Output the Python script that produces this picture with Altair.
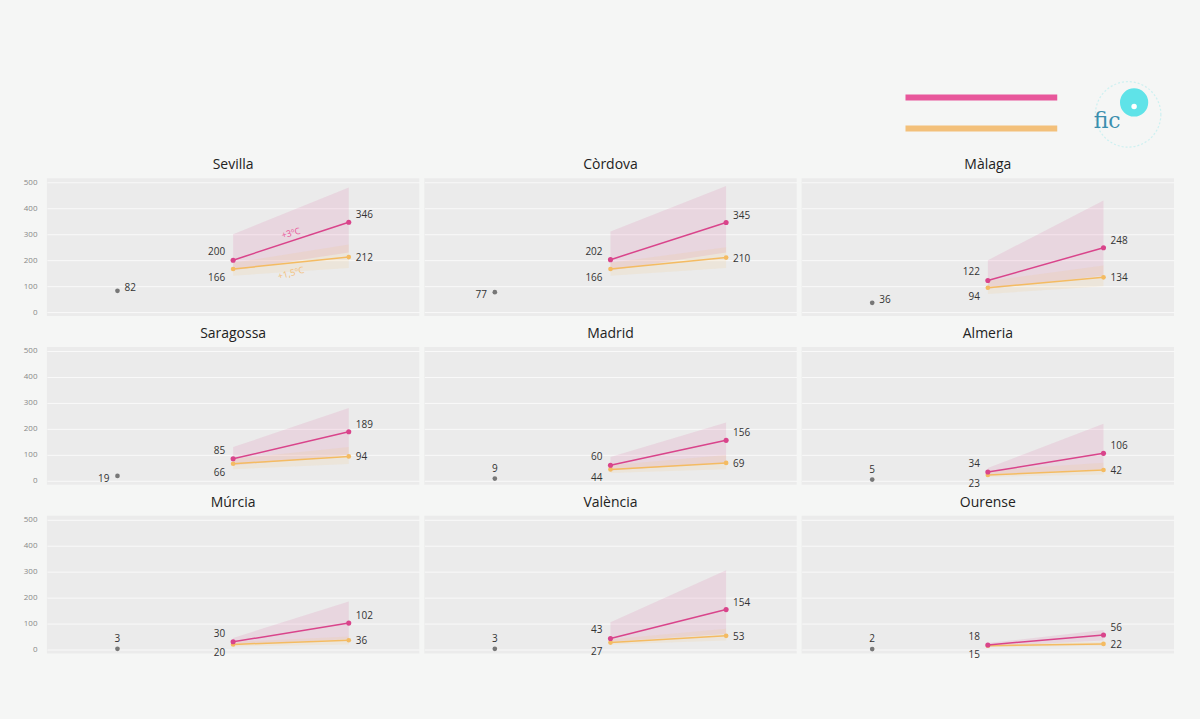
import altair as alt
import pandas as pd

cities = ["Sevilla", "Còrdova", "Màlaga", "Saragossa", "Madrid", "Almeria",
          "Múrcia", "València", "Ourense"]
periods = ["Actual", "Meitat de segle", "Final de segle"]
hist = [82, 77, 36, 19, 9, 5, 3, 3, 2]
hist_side = ["right", "left", "right", "left", "top", "top", "top", "top", "top"]
pink_mid = [200, 202, 122, 85, 60, 34, 30, 43, 18]
pink_end = [346, 345, 248, 189, 156, 106, 102, 154, 56]
orange_mid = [166, 166, 94, 66, 44, 23, 20, 27, 15]
orange_end = [212, 210, 134, 94, 69, 42, 36, 53, 22]
pink_hi_mid = [300, 310, 200, 130, 92, 50, 45, 105, 25]
pink_hi_end = [480, 485, 430, 280, 225, 220, 185, 305, 75]
pink_lo_mid = [160, 160, 90, 60, 40, 25, 20, 30, 12]
pink_lo_end = [230, 230, 140, 100, 70, 45, 40, 60, 35]
orange_hi_mid = [190, 190, 120, 85, 60, 40, 30, 40, 20]
orange_hi_end = [260, 250, 180, 130, 100, 70, 50, 80, 30]
orange_lo_mid = [140, 140, 70, 45, 30, 15, 12, 20, 10]
orange_lo_end = [170, 170, 100, 65, 45, 25, 20, 35, 15]
series = ["+3ºC", "+1,5ºC"]
series_idx = [0, 1]
ann_city = ["Sevilla", "Sevilla"]
ann_text = ["+3ºC", "+1,5ºC"]
ann_y = [304, 150]

PINK = "#d9448b"
PINK_L = "#e8579b"
ORANGE = "#f4bb62"
ORANGE_L = "#f3c07a"
GRAY = "#777777"
TXT = "#333333"
FONT = "Open Sans"

rows = []
for i, c in enumerate(cities):
    rows.append(dict(city=c, kind="hist", x=0, y=hist[i], side=hist_side[i], label=str(hist[i])))
    rows.append(dict(city=c, kind="pink", x=1, y=pink_mid[i], label=str(pink_mid[i])))
    rows.append(dict(city=c, kind="pink", x=2, y=pink_end[i], label=str(pink_end[i])))
    rows.append(dict(city=c, kind="orange", x=1, y=orange_mid[i], label=str(orange_mid[i])))
    rows.append(dict(city=c, kind="orange", x=2, y=orange_end[i], label=str(orange_end[i])))
    rows.append(dict(city=c, kind="pinkband", x=1, lo=pink_lo_mid[i], hi=pink_hi_mid[i]))
    rows.append(dict(city=c, kind="pinkband", x=2, lo=pink_lo_end[i], hi=pink_hi_end[i]))
    rows.append(dict(city=c, kind="orangeband", x=1, lo=orange_lo_mid[i], hi=orange_hi_mid[i]))
    rows.append(dict(city=c, kind="orangeband", x=2, lo=orange_lo_end[i], hi=orange_hi_end[i]))
for c, t, yv in zip(ann_city, ann_text, ann_y):
    rows.append(dict(city=c, kind="ann", x=1.5, y=yv, label=t, series=t))
df = pd.DataFrame(rows)

xs = alt.Scale(domain=[-0.61, 2.61], nice=False, zero=False)
ys = alt.Scale(domain=[-15, 515], nice=False)
X = alt.X("x:Q", scale=xs, axis=None)
yaxis = alt.Axis(values=[0, 100, 200, 300, 400, 500], title=None, domain=False, ticks=False,
                 labelFontSize=8, labelColor="#888888", labelPadding=10,
                 grid=True, gridColor="#f9f9f9", gridWidth=1, labelFont=FONT)
Y = alt.Y("y:Q", scale=ys, axis=yaxis)


def kind(k):
    return alt.datum.kind == k


base = alt.Chart()

pink_band = base.mark_area(color=PINK, opacity=0.12).encode(
    x=X, y=alt.Y("lo:Q", scale=ys, axis=yaxis), y2="hi:Q").transform_filter(kind("pinkband"))
orange_band = base.mark_area(color=ORANGE, opacity=0.12).encode(
    x=X, y=alt.Y("lo:Q", scale=ys, axis=yaxis), y2="hi:Q").transform_filter(kind("orangeband"))
orange_line = base.mark_line(color=ORANGE, strokeWidth=1.5).encode(x=X, y=Y).transform_filter(kind("orange"))
orange_pts = base.mark_point(color=ORANGE, filled=True, size=22, opacity=1).encode(x=X, y=Y).transform_filter(kind("orange"))
pink_line = base.mark_line(color=PINK, strokeWidth=1.5).encode(x=X, y=Y).transform_filter(kind("pink"))
pink_pts = base.mark_point(color=PINK, filled=True, size=26, opacity=1).encode(x=X, y=Y).transform_filter(kind("pink"))
hist_pts = base.mark_point(color=GRAY, filled=True, size=22, opacity=1).encode(x=X, y=Y).transform_filter(kind("hist"))


def txt(filt, **kw):
    return base.mark_text(fontSize=10, color=TXT, font=FONT, **kw).encode(
        x=X, y=Y, text="label:N").transform_filter(filt)


lab_pink_l = txt((alt.datum.kind == "pink") & (alt.datum.x == 1), align="right", dx=-8, dy=-8)
lab_orange_l = txt((alt.datum.kind == "orange") & (alt.datum.x == 1), align="right", dx=-8, dy=9)
lab_pink_r = txt((alt.datum.kind == "pink") & (alt.datum.x == 2), align="left", dx=7, dy=-7)
lab_orange_r = txt((alt.datum.kind == "orange") & (alt.datum.x == 2), align="left", dx=7, dy=1)
lab_hist_r = txt((alt.datum.kind == "hist") & (alt.datum.side == "right"), align="left", dx=7, dy=-3)
lab_hist_l = txt((alt.datum.kind == "hist") & (alt.datum.side == "left"), align="right", dx=-8, dy=3)
lab_hist_t = txt((alt.datum.kind == "hist") & (alt.datum.side == "top"), align="center", dy=-10)

ann = base.mark_text(fontSize=9, font=FONT, angle=345).encode(
    x=X, y=Y, text="label:N",
    color=alt.Color("series:N", scale=alt.Scale(domain=series, range=[PINK, ORANGE]), legend=None),
).transform_filter(kind("ann"))

panel = alt.layer(pink_band, orange_band, orange_line, pink_line, orange_pts, pink_pts, hist_pts,
                  lab_pink_l, lab_orange_l, lab_pink_r, lab_orange_r,
                  lab_hist_r, lab_hist_l, lab_hist_t, ann).properties(width=373, height=138)

grid = panel.facet(
    facet=alt.Facet("city:N", sort=cities, title=None,
                    header=alt.Header(labelFontSize=14, labelColor="#222222", labelFont=FONT,
                                      labelPadding=6)),
    columns=3, spacing={"row": 4, "column": 5}, data=df,
)

# header: legend lines and logo (pixel positions relative to the plot origin)
leg_df = pd.DataFrame({"series": series, "idx": series_idx})
leg = alt.Chart(leg_df).mark_rule(strokeWidth=6).encode(
    y=alt.Y("idx:Q", scale=alt.Scale(domain=[0, 1], range=[92, 123]), axis=None),
    x=alt.value(860), x2=alt.value(1012),
    color=alt.Color("series:N", scale=alt.Scale(domain=series, range=[PINK_L, ORANGE_L]), legend=None),
)
logo_df = pd.DataFrame({"name": ["fic"]})
ring = alt.Chart(logo_df).mark_point(shape="circle", size=4300, color="#bdeff0", strokeWidth=1.2,
                                     strokeDash=[2, 2], filled=False).encode(
    x=alt.value(1083), y=alt.value(109))
disc = alt.Chart(logo_df).mark_point(shape="circle", size=800, color="#5fe3e8", filled=True, opacity=1).encode(
    x=alt.value(1089), y=alt.value(97))
drop = alt.Chart(logo_df).mark_point(shape="circle", size=30, color="white", filled=True, opacity=1).encode(
    x=alt.value(1089), y=alt.value(101))
fic = alt.Chart(logo_df).mark_text(fontSize=22, font="DejaVu Serif", color="#3b8fae").encode(
    x=alt.value(1062), y=alt.value(116), text="name:N")
header = alt.layer(leg, ring, disc, drop, fic).properties(
    width=1150, height=153, view=alt.ViewBackground(fill="transparent", strokeWidth=0))

chart = alt.vconcat(header, grid, spacing=0).configure(
    background="#f5f6f5", padding={"left": 23, "top": 5, "right": 5, "bottom": 60}
).configure_view(fill="#ebebeb", strokeWidth=0)

chart.save("out.html", embed_options={"renderer": "svg", "actions": False})
